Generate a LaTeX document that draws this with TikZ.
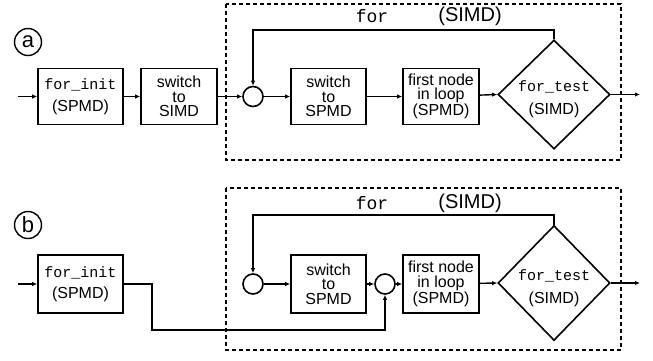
\documentclass[tikz,border=0pt]{standalone}
\usepackage{fontspec}
\setmainfont{Liberation Sans}
\setmonofont{Liberation Mono}
\usetikzlibrary{shapes.geometric,arrows.meta}

\begin{document}
\begin{tikzpicture}[x=1pt,y=-1pt,
  box/.style={draw,line width=1.6pt,minimum height=56pt,inner sep=0pt,
    align=center,font=\fontsize{16}{14.5}\selectfont},
  test/.style={draw,diamond,line width=1.6pt,minimum width=112pt,inner sep=0pt},
  testtext/.style={align=center,inner sep=0pt,font=\fontsize{16}{14.5}\selectfont},
  junct/.style={draw,circle,line width=1.6pt,minimum size=20pt,inner sep=0pt},
  tag/.style={draw,circle,line width=1.4pt,minimum size=27pt,inner sep=0pt,
    font=\fontsize{22}{22}\selectfont},
  region/.style={draw,line width=1.3pt,dash pattern=on 4pt off 3pt},
  flow/.style={line width=1.4pt,-{Latex[length=5pt,width=4.5pt]}},
  mono/.style={font=\fontsize{18}{18}\ttfamily},
  head/.style={font=\fontsize{20}{20}\selectfont}]
\useasboundingbox (0,0) rectangle (653,360);

% ---------------- part (a) ----------------
\node[tag] (tagA) at (28,42) {a};
\draw[region] (226,4) rectangle (621,160);
\node[mono] (forA) at (372,16) {for};
\node[head] (simdA) at (470,16) {(SIMD)};

\coordinate (inA) at (18,96.5);
\node[box,minimum width=85pt] (initA) at (80.5,96.5)
  {{\fontsize{15}{15}\ttfamily for\_init}\\[7pt](SPMD)};
\node[box,minimum width=76pt] (toSimdA) at (179,96.5) {switch\\to\\SIMD};
\node[junct] (joinA) at (253,96.5) {};
\node[box,minimum width=75pt] (toSpmdA) at (328.5,96.5) {switch\\to\\SPMD};
\node[box,minimum width=76pt] (firstA) at (441,96.5) {first node\\in loop\\(SPMD)};
\node[test,minimum height=109pt] (testA) at (554,94.5) {};
\node[testtext] (testAtxt) at (554,99)
  {{\fontsize{15}{15}\ttfamily for\_test}\\[8pt](SIMD)};
\coordinate (outA) at (640,94.5);

\draw[flow] (inA) -- (initA);
\draw[flow] (initA) -- (toSimdA);
\draw[flow] (toSimdA) -- (joinA);
\draw[flow] (joinA) -- (toSpmdA);
\draw[flow] (toSpmdA) -- (firstA);
\draw[flow] (firstA) -- (testA.west);
\draw[flow] (testA.east) -- (outA);
\draw[flow] (testA.north) |- (253,30) -- (joinA.north);

% ---------------- part (b) ----------------
\node[tag] (tagB) at (28,225) {b};
\draw[region] (226,188) rectangle (621,350);
\node[mono] (forB) at (372,203) {for};
\node[head] (simdB) at (470,203) {(SIMD)};

\coordinate (inB) at (18,284);
\node[box,minimum width=85pt,minimum height=58pt] (initB) at (80.5,284)
  {{\fontsize{15}{15}\ttfamily for\_init}\\[7pt](SPMD)};
\node[junct] (loopB) at (253,284) {};
\node[box,minimum width=75pt,minimum height=58pt] (toSpmdB) at (328.5,284) {switch\\to\\SPMD};
\node[junct] (joinB) at (385,284) {};
\node[box,minimum width=76pt,minimum height=58pt] (firstB) at (441,284) {first node\\in loop\\(SPMD)};
\node[test,minimum height=115pt] (testB) at (554,283) {};
\node[testtext] (testBtxt) at (554,288)
  {{\fontsize{15}{15}\ttfamily for\_test}\\[8pt](SIMD)};
\coordinate (outB) at (640,283);

\draw[flow] (inB) -- (initB);
\draw[flow] (initB.east) -- (152,284) -- (152,330) -| (joinB.south);
\draw[flow] (loopB) -- (toSpmdB);
\draw[flow] (toSpmdB) -- (joinB);
\draw[flow] (joinB) -- (firstB);
\draw[flow] (firstB) -- (testB.west);
\draw[flow] (testB.east) -- (outB);
\draw[flow] (testB.north) |- (253,215) -- (loopB.north);
\end{tikzpicture}
\end{document}
